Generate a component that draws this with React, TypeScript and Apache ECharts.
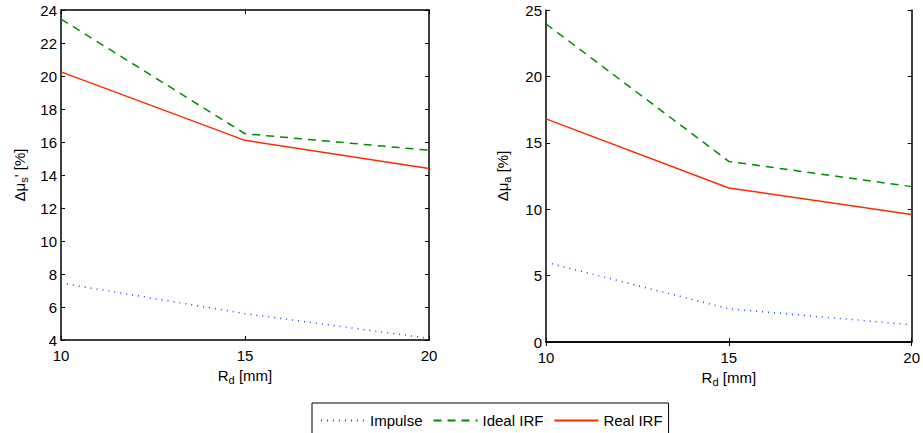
import React, { useEffect, useRef } from "react";
import * as echarts from "echarts";

const rd = [10, 15, 20];
const musImpulse = [7.45, 5.6, 4.1];
const musIdeal = [23.45, 16.5, 15.5];
const musReal = [20.25, 16.1, 14.4];
const muaImpulse = [6.0, 2.5, 1.3];
const muaIdeal = [23.95, 13.6, 11.7];
const muaReal = [16.8, 11.6, 9.6];

const leftTicks = { min: 4, max: 24, interval: 2 };
const rightTicks = { min: 0, max: 25, interval: 5 };

const BLUE = "#2244ff";
const GREEN = "#008c00";
const RED = "#ff2a00";
const FONT = "Liberation Sans, Arial, sans-serif";

const pairs = (ys: number[]) => rd.map((x, i) => [x, ys[i]]);

export default function App() {
  const ref = useRef<HTMLDivElement>(null);
  useEffect(() => {
    document.body.style.margin = "0";
    const chart = echarts.init(ref.current!, null, { renderer: "svg" });
    const axisLine = { show: true, lineStyle: { color: "#000", width: 1.5 } };
    const tick = { show: true, inside: true, length: 4, lineStyle: { color: "#000", width: 1 } };
    const label = { color: "#000", fontSize: 15, fontFamily: FONT };
    const nameStyle = {
      color: "#000",
      fontFamily: FONT,
      fontSize: 15,
      rich: {
        a: { fontSize: 15, fontFamily: FONT, color: "#000" },
        s: { fontSize: 11, fontFamily: FONT, color: "#000", padding: [9, 0, 0, 0] },
      },
    };
    const xAxisFor = (gi: number) => [
      {
        type: "value",
        gridIndex: gi,
        min: 10,
        max: 20,
        interval: 5,
        position: "bottom",
        axisLine,
        axisTick: tick,
        splitLine: { show: false },
        axisLabel: { ...label, margin: 8 },
        name: "{a|R}{s|d}{a| [mm]}",
        nameLocation: "middle",
        nameGap: 22,
        nameTextStyle: nameStyle,
      },
      {
        type: "value",
        gridIndex: gi,
        min: 10,
        max: 20,
        interval: 5,
        position: "top",
        axisLine,
        axisTick: tick,
        splitLine: { show: false },
        axisLabel: { show: false },
      },
    ];
    const yAxisFor = (gi: number, t: any, name: string, gap: number) => [
      {
        type: "value",
        gridIndex: gi,
        ...t,
        position: "left",
        axisLine,
        axisTick: tick,
        splitLine: { show: false },
        axisLabel: { ...label, margin: 4, padding: [0, 0, 3, 0] },
        name,
        nameLocation: "middle",
        nameGap: gap,
        nameTextStyle: nameStyle,
      },
      {
        type: "value",
        gridIndex: gi,
        ...t,
        position: "right",
        axisLine,
        axisTick: tick,
        splitLine: { show: false },
        axisLabel: { show: false },
      },
    ];
    const mk = (name: string, ys: number[], color: string, type: any, gi: number) => ({
      name,
      type: "line",
      xAxisIndex: gi * 2,
      yAxisIndex: gi * 2,
      data: pairs(ys),
      symbol: "none",
      lineStyle: { color, width: 1.5, type },
      itemStyle: { color },
    });
    chart.setOption({
      animation: false,
      grid: [
        { left: 61, top: 10, width: 368, height: 330 },
        { left: 546, top: 10, width: 366, height: 332 },
      ],
      xAxis: [...xAxisFor(0), ...xAxisFor(1)],
      yAxis: [
        ...yAxisFor(0, leftTicks, "{a|Δμ}{s|s}{a|' [%]}", 32),
        ...yAxisFor(1, rightTicks, "{a|Δμ}{s|a}{a| [%]}", 34),
      ],
      legend: {
        left: 312,
        top: 403,
        padding: [10, 6, 10, 8],
        borderColor: "#000",
        borderWidth: 1,
        itemWidth: 44,
        itemHeight: 14,
        itemGap: 10,
        itemStyle: { opacity: 0 },
        textStyle: { color: "#000", fontSize: 15, fontFamily: FONT },
        data: ["Impulse", "Ideal IRF", "Real IRF"],
      },
      series: [
        mk("Impulse", musImpulse, BLUE, [1, 5], 0),
        mk("Ideal IRF", musIdeal, GREEN, [8, 6], 0),
        mk("Real IRF", musReal, RED, "solid", 0),
        mk("Impulse", muaImpulse, BLUE, [1, 5], 1),
        mk("Ideal IRF", muaIdeal, GREEN, [8, 6], 1),
        mk("Real IRF", muaReal, RED, "solid", 1),
      ],
    });
    return () => chart.dispose();
  }, []);
  return <div ref={ref} style={{ width: 923, height: 433 }} />;
}
